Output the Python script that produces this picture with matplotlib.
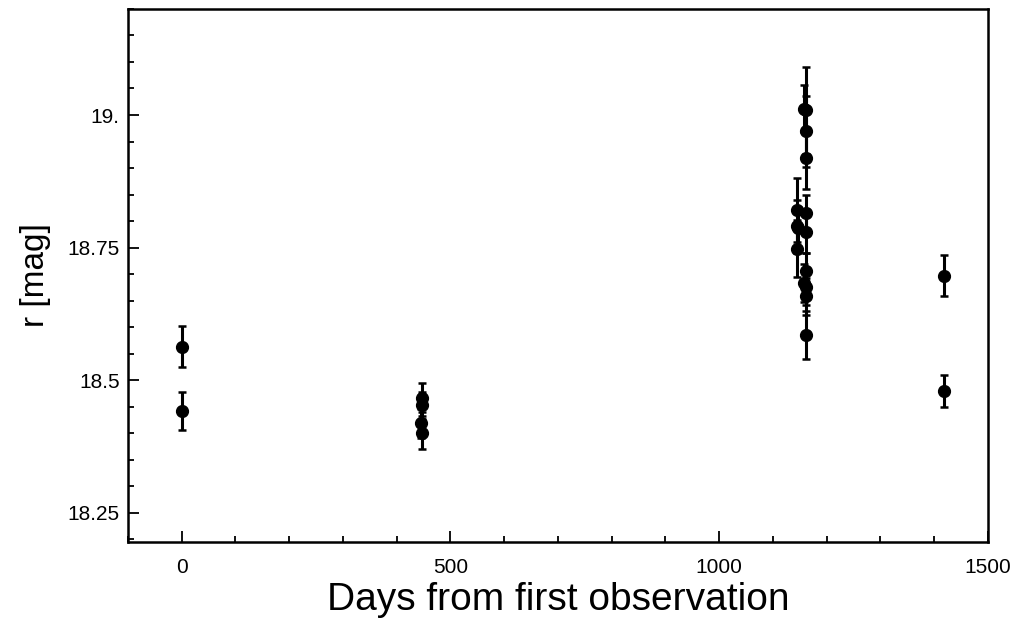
import matplotlib
matplotlib.use('Agg')
import matplotlib.pyplot as plt
from matplotlib.ticker import MultipleLocator

plt.rcParams['font.family'] = ['Liberation Sans', 'DejaVu Sans']

# days from first observation, r magnitude, error
days = [0, 0,
        447, 448, 446, 447,
        1145, 1145, 1147, 1145,
        1162, 1158, 1162, 1162, 1162, 1162, 1162, 1159, 1162, 1162, 1162,
        1418, 1418]
mag = [18.563, 18.442,
       18.467, 18.452, 18.418, 18.401,
       18.821, 18.790, 18.786, 18.748,
       19.009, 19.012, 18.969, 18.918, 18.815, 18.779, 18.705, 18.683, 18.676, 18.658, 18.585,
       18.697, 18.479]
err = [0.038, 0.036,
       0.028, 0.025, 0.028, 0.032,
       0.060, 0.050, 0.040, 0.054,
       0.082, 0.045, 0.067, 0.058, 0.035, 0.040, 0.035, 0.035, 0.035, 0.035, 0.045,
       0.039, 0.030]

fig = plt.figure(figsize=(10.25, 6.2), dpi=100)
ax = fig.add_axes([0.1249, 0.1263, 0.8387, 0.8592])

ax.errorbar(days, mag, yerr=err, fmt='o', color='black', ms=8.5, elinewidth=2.2,
            capsize=3, capthick=1.8)

ax.set_xlim(-100, 1500)
ax.set_ylim(18.195, 19.2)
ax.set_xticks([0, 500, 1000, 1500])
ax.xaxis.set_minor_locator(MultipleLocator(100))
ax.set_yticks([18.25, 18.5, 18.75, 19.0])
ax.set_yticklabels(['18.25', '18.5', '18.75', '19.'])
ax.yaxis.set_minor_locator(MultipleLocator(0.05))

ax.tick_params(which='both', direction='in', top=False, right=False, labelsize=15, width=1.3)
ax.tick_params(axis='x', which='major', length=8, pad=12)
ax.tick_params(axis='y', which='major', length=8, pad=6)
ax.tick_params(which='minor', length=4)
for s in ax.spines.values():
    s.set_linewidth(1.8)

ax.set_xlabel('Days from first observation', fontsize=28, labelpad=3)
ax.set_ylabel('r [mag]', fontsize=24, labelpad=12)

fig.savefig('out.png', dpi=100)
